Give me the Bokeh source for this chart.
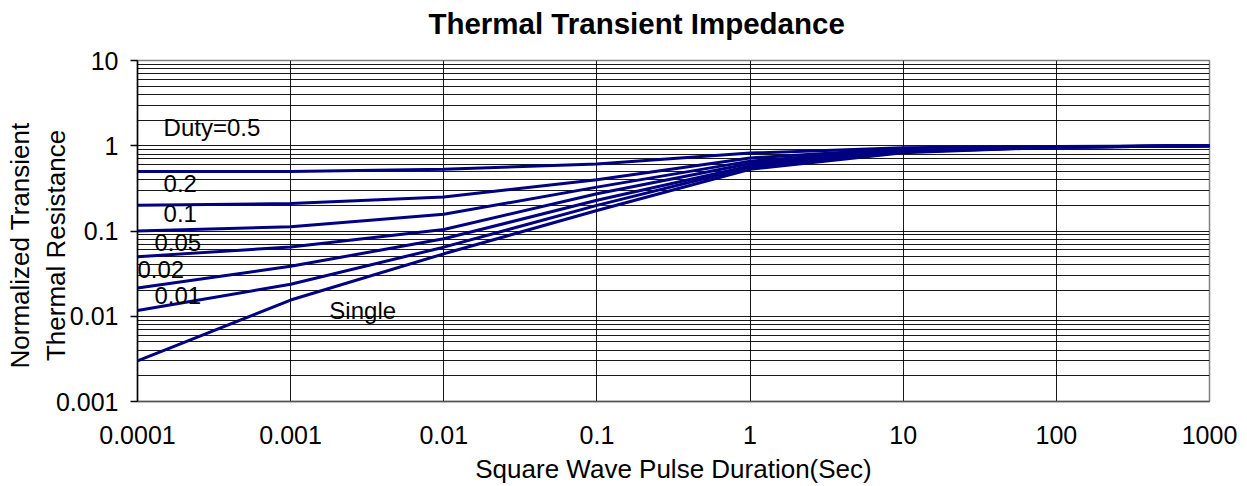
from bokeh.plotting import figure
from bokeh.models import Range1d, FixedTicker, CustomJSTickFormatter, ColumnDataSource, LogAxis
from bokeh.core.properties import value
from bokeh.embed import file_html
from bokeh.resources import INLINE

# ---- data ----
pulse_duration = [1e-4, 1e-3, 1e-2, 1e-1, 1, 10, 100, 1000]
duty_0_5  = [0.50, 0.50, 0.53, 0.61, 0.82, 0.95, 0.98, 1.0]
duty_0_2  = [0.20, 0.21, 0.25, 0.40, 0.72, 0.92, 0.97, 1.0]
duty_0_1  = [0.10, 0.112, 0.157, 0.327, 0.66, 0.90, 0.97, 1.0]
duty_0_05 = [0.05, 0.065, 0.104, 0.274, 0.62, 0.88, 0.97, 1.0]
duty_0_02 = [0.0215, 0.0386, 0.081, 0.229, 0.58, 0.86, 0.96, 1.0]
duty_0_01 = [0.0117, 0.0237, 0.0646, 0.20, 0.56, 0.85, 0.96, 1.0]
single    = [0.003, 0.0155, 0.054, 0.174, 0.53, 0.83, 0.96, 1.0]
series = [duty_0_5, duty_0_2, duty_0_1, duty_0_05, duty_0_02, duty_0_01, single]

curve_labels = ["Duty=0.5", "0.2", "0.1", "0.05", "0.02", "0.01", "Single"]
curve_label_x = [1.48e-4, 1.48e-4, 1.48e-4, 1.29e-4, 1.0e-4, 1.29e-4, 1.79e-3]
curve_label_y = [1.63, 0.356, 0.162, 0.0731, 0.0356, 0.0173, 0.0118]

x_tick_vals = [1e-4, 1e-3, 1e-2, 1e-1, 1, 10, 100, 1000]
x_tick_labels = ["0.0001", "0.001", "0.01", "0.1", "1", "10", "100", "1000"]
y_tick_vals = [1e-3, 1e-2, 1e-1, 1, 10]
y_tick_labels = ["0.001", "0.01", "0.1", "1", "10"]
y_grid_vals = [m * 10.0 ** e for e in range(-3, 1) for m in range(1, 10)] + [10.0]

TITLE = "Thermal Transient Impedance"
FONT = "Liberation Sans"
LINE_COLOR = "#000080"
NB = "\u00a0"

p = figure(width=1247, height=486, x_axis_type="log", y_axis_type="log",
           x_range=Range1d(1e-4, 1e3), y_range=Range1d(1e-3, 10),
           output_backend="svg", toolbar_location=None,
           min_border_left=137, min_border_right=38,
           min_border_top=60, min_border_bottom=85)

p.background_fill_color = "white"
p.border_fill_color = "white"
p.outline_line_color = "#808080"
p.outline_line_width = 1.5

fmt_code = """
const lt = Math.log10(tick);
for (let i = 0; i < vals.length; i++) {
  if (Math.abs(Math.log10(vals[i]) - lt) < 1e-6) return labels[i];
}
return "";
"""

xa = p.xaxis[0]
xa.ticker = FixedTicker(ticks=x_tick_vals)
xa.formatter = CustomJSTickFormatter(args=dict(vals=x_tick_vals, labels=x_tick_labels), code=fmt_code)
xa.major_tick_out = 0
xa.major_tick_in = 0
xa.minor_tick_out = 0
xa.minor_tick_in = 0
xa.axis_line_color = "#555555"
xa.axis_line_width = 1.5
xa.major_label_text_font = FONT
xa.major_label_text_font_size = "25px"
xa.major_label_text_color = "black"
xa.major_label_standoff = 24
xa.axis_label = "Square Wave Pulse Duration(Sec)"
xa.axis_label_text_font = FONT
xa.axis_label_text_font_size = "26px"
xa.axis_label_text_font_style = "normal"
xa.axis_label_text_color = "black"
xa.axis_label_standoff = 7

ya = p.yaxis[0]
ya.ticker = FixedTicker(ticks=y_tick_vals)
ya.formatter = CustomJSTickFormatter(args=dict(vals=y_tick_vals, labels=y_tick_labels), code=fmt_code)
ya.major_tick_out = 7
ya.major_tick_in = 0
ya.minor_tick_out = 0
ya.minor_tick_in = 0
ya.axis_line_color = "black"
ya.axis_line_width = 1.5
ya.major_tick_line_color = "black"
ya.major_tick_line_width = 1.5
ya.major_label_text_font = FONT
ya.major_label_text_font_size = "25px"
ya.major_label_text_color = "black"
ya.major_label_standoff = 12
ya.axis_label = "Normalized Transient" + NB * 4 + "\nThermal Resistance" + NB * 4
ya.axis_label_text_font = FONT
ya.axis_label_text_font_size = "26px"
ya.axis_label_text_font_style = "normal"
ya.axis_label_text_color = "black"
ya.axis_label_standoff = -18

# chart title carried by a tick-less axis above the frame
title_axis = LogAxis(ticker=FixedTicker(ticks=[]), axis_label=TITLE + NB * 9,
                     axis_line_color=None, major_tick_out=0, major_tick_in=0,
                     minor_tick_out=0, minor_tick_in=0, major_label_standoff=0,
                     axis_label_standoff=21, axis_label_text_font=FONT,
                     axis_label_text_font_size="29.5px",
                     axis_label_text_font_style="bold",
                     axis_label_text_color="black")
p.add_layout(title_axis, "above")

p.xgrid.ticker = FixedTicker(ticks=x_tick_vals)
p.ygrid.ticker = FixedTicker(ticks=y_grid_vals)
for g in (p.xgrid[0], p.ygrid[0]):
    g.grid_line_color = "black"
    g.grid_line_width = 1
    g.grid_line_alpha = 0.9

for ys in series:
    src = ColumnDataSource(dict(x=pulse_duration, y=ys))
    p.line("x", "y", source=src, line_color=LINE_COLOR, line_width=3)

lab_src = ColumnDataSource(dict(x=curve_label_x, y=curve_label_y, t=curve_labels))
p.text("x", "y", text="t", source=lab_src, text_font=value(FONT),
       text_font_size=value("24px"), text_color="black",
       text_align="left", text_baseline="middle")

open("out.html", "w").write(file_html(p, INLINE))
